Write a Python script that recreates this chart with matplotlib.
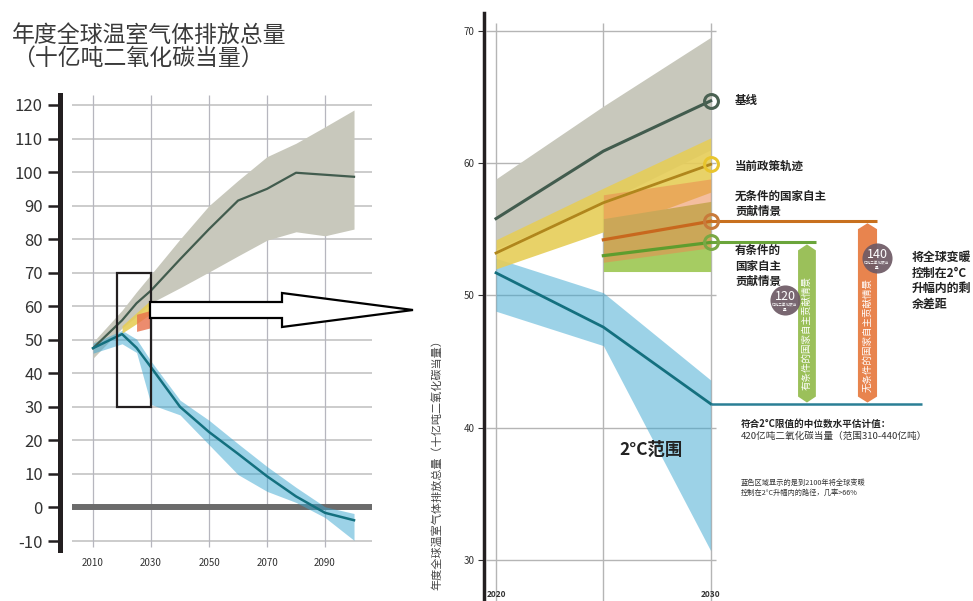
import numpy as np
import matplotlib
matplotlib.use("Agg")
import matplotlib.pyplot as plt
from matplotlib.patches import Polygon, Rectangle

plt.rcParams['font.family'] = ['Noto Sans CJK SC', 'DejaVu Sans']
plt.rcParams['axes.unicode_minus'] = False

# ---- data (GtCO2e) ----
years = [2010, 2020, 2025, 2030, 2040, 2050, 2060, 2070, 2080, 2090, 2100]
baseline_mid = [47.5, 55.8, 60.9, 64.7, 74.0, 83.0, 91.5, 95.0, 99.8, 99.2, 98.6]
baseline_hi = [49.3, 58.8, 64.3, 69.5, 80.0, 90.0, 97.5, 104.6, 108.6, 113.5, 118.5]
baseline_lo = [44.5, 53.5, 57.0, 61.0, 65.5, 70.2, 75.0, 79.7, 82.2, 81.0, 83.0]

two_deg_mid = [47.5, 51.7, 47.6, 41.8, 30.0, 22.5, 16.0, 9.3, 3.3, -1.6, -3.8]
two_deg_hi = [49.0, 52.8, 50.2, 43.6, 32.0, 26.0, 19.0, 12.2, 6.0, 0.2, -1.8]
two_deg_lo = [46.0, 48.8, 46.2, 30.7, 27.6, 18.7, 9.8, 4.8, 1.5, -3.0, -9.8]

policy_years = [2020, 2025, 2030]
policy_mid = [53.2, 57.0, 59.9]
policy_hi = [54.2, 58.1, 61.9]
policy_lo = [52.0, 54.8, 57.8]

ndc_years = [2025, 2030]
uncond_mid = [54.2, 55.6]
uncond_hi = [57.6, 58.8]
uncond_lo = [52.5, 53.6]
cond_mid = [53.0, 54.0]
cond_hi = [55.8, 57.1]
cond_lo = [51.8, 51.8]

gap_uncond = '140'
gap_cond = '120'

left_yticks = list(range(-10, 121, 10))
left_xticks = [2010, 2030, 2050, 2070, 2090]
right_yticks = [30, 40, 50, 60, 70]
right_grid_x = [2020, 2025, 2030]

# colours
c_grey = '#c8c8bc'
c_base = '#425c4e'
c_blue_band = '#3aa6d0'
c_blue = '#14707f'
c_yellow = '#e6cd58'
c_policy = '#b0861c'
c_orange_band = '#eb8a50'
c_orange = '#c8681e'
c_green_band = '#a6cc62'
c_green = '#5e9d2e'
c_text = '#222222'

W, H = 973, 601
fig = plt.figure(figsize=(W / 100, H / 100), dpi=100)


def fx(x):
    return x / W


def fy(y):
    return 1 - y / H


# ================= left chart =================
ax1 = fig.add_axes([fx(60), fy(550), (372 - 60) / W, (550 - 95) / H])
ax1.set_xlim(1998.6, 2106.2)
ax1.set_ylim(-12.68, 122.98)
for s in ['top', 'right', 'bottom']:
    ax1.spines[s].set_visible(False)
ax1.spines['left'].set_linewidth(3.6)
ax1.spines['left'].set_color('#231f20')
ax1.set_yticks(left_yticks)
ax1.tick_params(axis='y', length=8.3, width=1.8, color='#231f20',
                labelsize=12, labelcolor='#333333', pad=4)
ax1.set_xticks(left_xticks)
ax1.tick_params(axis='x', length=0, labelsize=7, labelcolor='#333333', pad=6)

ax1.hlines(left_yticks, 2002.8, 2106.2, color='#c4c4c4', lw=1.2, zorder=0)
ax1.vlines(left_xticks, -11.8, 122.98, color='#b6b6be', lw=0.9, zorder=0)

ax1.plot([2002.8, 2106.2], [0, 0], color='#6b6b6b', lw=4.3, zorder=0.5,
         solid_capstyle='butt')
ax1.plot([2026, 2049], [0.4, 0.4], color='#6b6b6b', lw=2.5, zorder=0.5,
         solid_capstyle='butt')

ax1.fill_between(years, baseline_lo, baseline_hi, color=c_grey, lw=0, zorder=1)
ax1.fill_between(years, two_deg_lo, two_deg_hi, color=c_blue_band, alpha=0.5,
                 lw=0, zorder=1.5)
ax1.fill_between(policy_years, policy_lo, policy_hi, color=c_yellow, alpha=0.9,
                 lw=0, zorder=2)
ax1.fill_between(ndc_years, uncond_lo, uncond_hi, color='#e8704a', alpha=0.8,
                 lw=0, zorder=2.5)
ax1.plot(years, baseline_mid, color=c_base, lw=1.6, zorder=3)
ax1.plot(years, two_deg_mid, color=c_blue, lw=1.8, zorder=3)

ax1.add_patch(Rectangle((2018.3, 30), 2030 - 2018.3, 40, fill=False,
                        ec='#231f20', lw=1.6, zorder=4))

fig.text(fx(12), fy(35), '年度全球温室气体排放总量', fontsize=16.5,
         color='#3a3a3a', va='center', ha='left')
fig.text(fx(12), fy(58), '（十亿吨二氧化碳当量）', fontsize=16.5,
         color='#3a3a3a', va='center', ha='left')

# big hollow arrow
arrow_px = [(150, 302), (282, 302), (282, 293), (413, 310),
            (282, 327), (282, 318), (150, 318)]
fig.patches.append(Polygon([(fx(x), fy(y)) for x, y in arrow_px], closed=True,
                           fc='white', ec='black', lw=1.6,
                           transform=fig.transFigure, zorder=10))

# ================= right chart (zoom 2020-2030) =================
ax2 = fig.add_axes([fx(484), 0, (W - 484) / W, (H - 13) / H])
ax2.set_xlim(2019.44, 2042.22)
ax2.set_ylim(26.9, 71.34)
for s in ['top', 'right', 'bottom']:
    ax2.spines[s].set_visible(False)
ax2.spines['left'].set_linewidth(2.5)
ax2.spines['left'].set_color('#231f20')
ax2.set_yticks(right_yticks)
ax2.tick_params(axis='y', length=4.3, width=0.8, color='#333333',
                labelsize=7, labelcolor='#333333', pad=2.5)
ax2.set_xticks([])

ax2.hlines(right_yticks, 2019.55, 2030.25, color='#b5b5b5', lw=1, zorder=0)
ax2.vlines(right_grid_x, 26.9, 70.6, color='#b5b5b5', lw=1, zorder=0)

for yr in [2020, 2030]:
    fig.text(fx(496 + (yr - 2020) * 21.47), fy(594.5), str(yr), fontsize=6,
             fontweight='bold', ha='center', va='center', color='#333333')

zy = years[1:4]  # 2020, 2025, 2030
ax2.fill_between(zy, baseline_lo[1:4], baseline_hi[1:4], color=c_grey, lw=0,
                 zorder=1)
ax2.fill_between(zy, two_deg_lo[1:4], two_deg_hi[1:4], color=c_blue_band,
                 alpha=0.5, lw=0, zorder=1.5)
ax2.fill_between(policy_years, policy_lo, policy_hi, color=c_yellow, alpha=0.9,
                 lw=0, zorder=2)
ax2.fill_between(ndc_years, cond_lo, cond_hi, color=c_green_band, lw=0, zorder=3)
ax2.fill_between(ndc_years, uncond_lo, uncond_hi, color=c_orange_band,
                 alpha=0.55, lw=0, zorder=4)

ax2.plot(zy, baseline_mid[1:4], color=c_base, lw=2.2, zorder=5)
ax2.plot(policy_years, policy_mid, color=c_policy, lw=2.0, zorder=5)
ax2.plot(ndc_years, uncond_mid, color=c_orange, lw=2.3, zorder=5)
ax2.plot(ndc_years, cond_mid, color=c_green, lw=2.3, zorder=5)
ax2.plot(zy, two_deg_mid[1:4], color=c_blue, lw=2.0, zorder=5)

# extension lines from 2030 values
ax2.plot([2030, 2037.75], [uncond_mid[-1]] * 2, color='#c8701e', lw=2.2,
         zorder=5, solid_capstyle='butt')
ax2.plot([2030, 2034.9], [cond_mid[-1]] * 2, color='#6aa53a', lw=2.2,
         zorder=5, solid_capstyle='butt')
ax2.plot([2030, 2039.84], [two_deg_mid[3]] * 2, color='#2a7f95', lw=1.8,
         zorder=5, solid_capstyle='butt')

# end markers
for val, col in [(baseline_mid[3], '#4a6152'), (policy_mid[-1], '#e8c52e'),
                 (uncond_mid[-1], '#c87a3a'), (cond_mid[-1], '#79a844')]:
    ax2.plot(2030, val, 'o', ms=10, mfc='none', mec=col, mew=2.2, zorder=7,
             clip_on=False)


def gap_bar(x0, x1, top, bot, color):
    xc = (x0 + x1) / 2
    d = 0.45
    pts = [(x0, top - d), (xc, top), (x1, top - d), (x1, bot + d),
           (xc, bot), (x0, bot + d)]
    ax2.add_patch(Polygon(pts, closed=True, fc=color, ec='none', zorder=4.5))


gap_bar(2036.86, 2037.75, uncond_mid[-1] - 0.15, two_deg_mid[3] + 0.1, '#e8844e')
gap_bar(2034.07, 2034.9, cond_mid[-1] - 0.15, two_deg_mid[3] + 0.1, '#9bc05a')

fig.text(fx(868), fy(335), '无条件的国家自主贡献情景', rotation=90, fontsize=6.8,
         color='white', ha='center', va='center', zorder=11)
fig.text(fx(807), fy(333), '有条件的国家自主贡献情景', rotation=90, fontsize=6.8,
         color='white', ha='center', va='center', zorder=11)

# gap circles
for (cx, cy), num in [((785, 300), gap_cond), ((877, 258), gap_uncond)]:
    ax2.scatter([2020 + (cx - 496) / 21.47], [70 - (cy - 30.7) / 13.23], s=470,
                color='#6e5a65', alpha=0.92, lw=0, zorder=8, clip_on=False)
    fig.text(fx(cx), fy(cy - 4), num, fontsize=9, color='white', ha='center',
             va='center', zorder=12)
    fig.text(fx(cx), fy(cy + 8), '亿吨二氧化碳当\n量', fontsize=2.6,
             color='white', ha='center', va='center', zorder=12,
             linespacing=1.3)

# labels
lab = dict(fontsize=8.3, fontweight='bold', color=c_text, ha='left',
           va='center', linespacing=1.25)
fig.text(fx(735), fy(100.7), '基线', **lab)
fig.text(fx(735), fy(166), '当前政策轨迹', **lab)
fig.text(fx(735), fy(204), '无条件的国家自主\n贡献情景', **lab)
fig.text(fx(735), fy(266), '有条件的\n国家自主\n贡献情景', **lab)
fig.text(fx(912), fy(281), '将全球变暖\n控制在2°C\n升幅内的剩\n余差距',
         fontsize=8.6, fontweight='bold', color=c_text, ha='left', va='center',
         linespacing=1.25)

fig.text(fx(619), fy(450), '2°C范围', fontsize=12.5, fontweight='bold',
         color=c_text, ha='left', va='center')

fig.text(fx(741), fy(424), '符合2°C限值的中位数水平估计值：', fontsize=6.9,
         fontweight='bold', color=c_text, ha='left', va='center')
fig.text(fx(741), fy(436), '420亿吨二氧化碳当量（范围310-440亿吨）',
         fontsize=6.9, color='#333333', ha='left', va='center')
fig.text(fx(741), fy(487.5),
         '蓝色区域显示的是到2100年将全球变暖\n控制在2°C升幅内的路径，几率>66%',
         fontsize=5.2, color='#333333', ha='left', va='center', linespacing=1.3)

fig.text(fx(437), fy(462), '年度全球温室气体排放总量（十亿吨二氧化碳当量）',
         rotation=90, fontsize=8, color='#444444', ha='center', va='center')

fig.savefig('out.png', dpi=100, facecolor='white')
